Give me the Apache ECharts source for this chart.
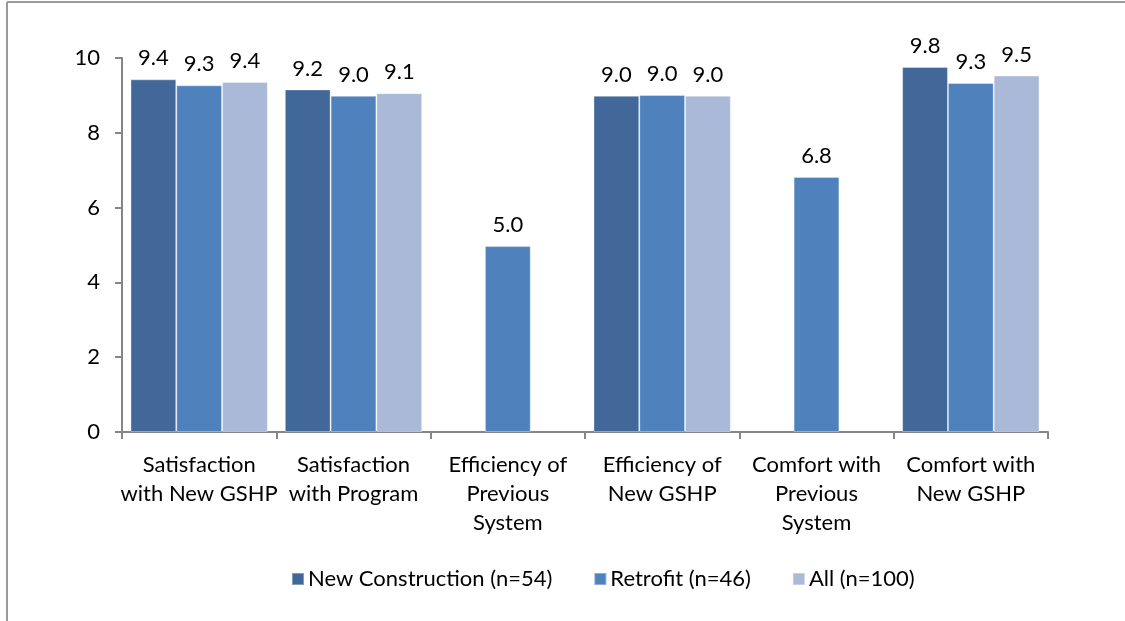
<!DOCTYPE html>
<html>
<head>
<meta charset="utf-8">
<script src="https://cdn.jsdelivr.net/npm/echarts@6/dist/echarts.min.js"></script>
<style>
  html, body { margin: 0; padding: 0; background: #fff; }
  #chart { width: 1125px; height: 621px; }
</style>
</head>
<body>
<div id="chart"></div>
<script>
// Survey ratings (0-10 scale) by customer group
const categories = [
  'Satisfaction\nwith New GSHP',
  'Satisfaction\nwith Program',
  'Efficiency of\nPrevious\nSystem',
  'Efficiency of\nNew GSHP',
  'Comfort with\nPrevious\nSystem',
  'Comfort with\nNew GSHP'
];
const seriesNames = ['New Construction (n=54)', 'Retrofit (n=46)', 'All (n=100)'];
const newConstruction = [9.43, 9.16, null, 8.99, null, 9.76];
const retrofit = [9.27, 8.99, 4.97, 9.01, 6.82, 9.33];
const allRespondents = [9.36, 9.06, null, 8.99, null, 9.53];
const yTicks = [0, 2, 4, 6, 8, 10];

const colors = ['#416899', '#4F81BD', '#AAB9D7'];
const fontFamily = 'Lato, "Open Sans", sans-serif';
const fontSize = 22;

const chart = echarts.init(document.getElementById('chart'), null, { renderer: 'canvas' });

function makeSeries(name, data, color) {
  return {
    name: name,
    type: 'bar',
    data: data,
    barGap: '0%',
    barCategoryGap: '11%',
    itemStyle: { color: color, borderColor: 'rgba(255,255,255,0.35)', borderWidth: 1 },
    label: {
      show: true,
      position: 'top',
      distance: 10,
      color: '#000',
      fontFamily: fontFamily,
      fontSize: fontSize,
      formatter: p => (p.value == null ? '' : Number(p.value).toFixed(1))
    }
  };
}

chart.setOption({
  animation: false,
  backgroundColor: '#fff',
  color: colors,
  graphic: [
    { type: 'line', shape: { x1: 7, y1: 2, x2: 7, y2: 621 }, style: { stroke: '#9a9a9a', lineWidth: 2 } },
    { type: 'line', shape: { x1: 7, y1: 2, x2: 1125, y2: 2 }, style: { stroke: '#9a9a9a', lineWidth: 2 } }
  ],
  grid: { left: 122, right: 77, top: 58, bottom: 189 },
  legend: {
    data: seriesNames,
    bottom: 26,
    left: 286,
    itemWidth: 12,
    itemHeight: 12,
    itemGap: 41,
    icon: 'rect',
    textStyle: { fontFamily: fontFamily, fontSize: fontSize, color: '#000', padding: [0, 0, 0, -1] }
  },
  xAxis: {
    type: 'category',
    data: categories,
    axisLine: { lineStyle: { color: '#868686', width: 2 } },
    axisTick: { show: true, length: 7, alignWithLabel: false, lineStyle: { color: '#868686', width: 2 } },
    axisLabel: {
      interval: 0,
      margin: 18,
      color: '#000',
      fontFamily: fontFamily,
      fontSize: fontSize,
      lineHeight: 29,
      align: 'center'
    }
  },
  yAxis: {
    type: 'value',
    min: yTicks[0],
    max: yTicks[yTicks.length - 1],
    interval: yTicks[1] - yTicks[0],
    splitLine: { show: false },
    axisLine: { show: true, lineStyle: { color: '#868686', width: 2 } },
    axisTick: { show: true, length: 7, lineStyle: { color: '#868686', width: 2 } },
    axisLabel: { margin: 22, color: '#000', fontFamily: fontFamily, fontSize: fontSize }
  },
  series: [
    makeSeries(seriesNames[0], newConstruction, colors[0]),
    makeSeries(seriesNames[1], retrofit, colors[1]),
    makeSeries(seriesNames[2], allRespondents, colors[2])
  ]
});
</script>
</body>
</html>
